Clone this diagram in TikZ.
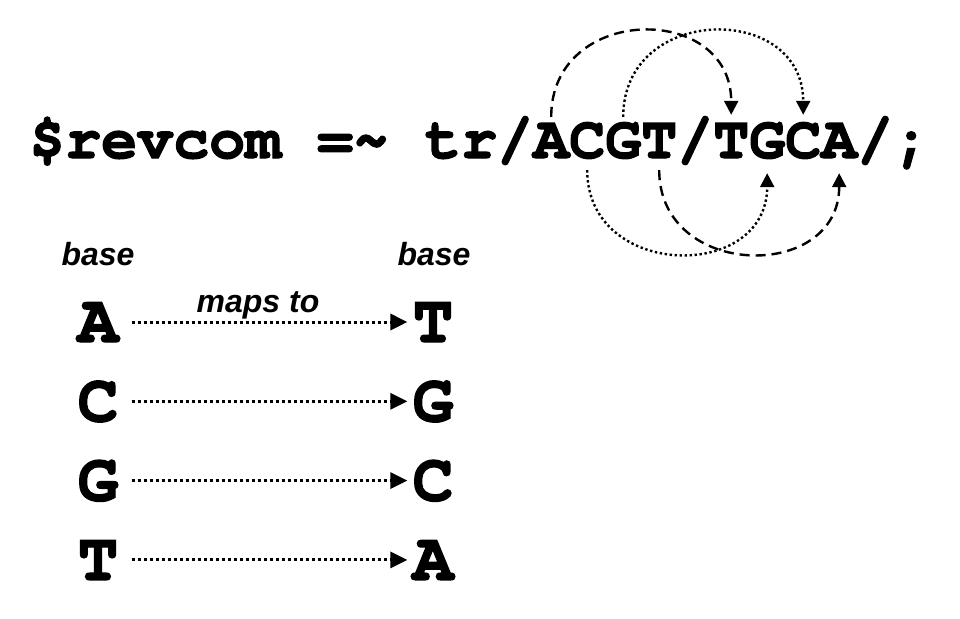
\documentclass[tikz,border=0pt]{standalone}
\usepackage{fontspec}
\setmainfont{Liberation Sans}
\newfontfamily\cursor{TeX Gyre Cursor}[BoldFeatures={FakeBold=2}]
\usetikzlibrary{arrows.meta}
\tikzset{code/.style={font=\cursor\bfseries\fontsize{60}{60}\selectfont,
        inner sep=0pt, text height=35pt, text depth=0pt, anchor=base west},
    nt/.style={font=\cursor\bfseries\fontsize{68}{68}\selectfont,
        inner sep=0pt, text height=40pt, text depth=0pt, anchor=base},
    tag/.style={font=\bfseries\itshape\fontsize{32}{32}\selectfont,
        inner sep=0pt, anchor=base},
    mapsto/.style={line width=3pt, dash pattern=on 3pt off 3pt,
        -{Triangle[length=17pt,width=16pt]}, shorten <=13pt, shorten >=5pt},
    swapdash/.style={line width=2.4pt, dash pattern=on 10pt off 6pt,
        -{Triangle[length=14pt,width=14pt]}},
    swapdot/.style={line width=2.4pt, dash pattern=on 2.4pt off 2.6pt,
        -{Triangle[length=14pt,width=14pt]}},
    }

\begin{document}
\begin{tikzpicture}[x=1pt,y=1pt]
\useasboundingbox (0,0) rectangle (960,-618);
% the tr/// line
\node[code] (pre) at (29,-158) {\$revcom =\textasciitilde{} tr/};
\foreach \c [count=\i] in {A,C,G,T}
    \node[code] (s\i) at ({29+36*(13+\i)},-158) {\c};
\node[code] (slash) at (677,-158) {/};
\foreach \c [count=\i] in {T,G,C,A}
    \node[code] (t\i) at ({29+36*(18+\i)},-158) {\c};
\node[code] (tail) at (857,-158) {/;};
% arcs above and below
\draw[swapdash] ([yshift=6pt]s1.north) to[out=90,in=90,looseness=1.6] ([yshift=8pt]t1.north);
\draw[swapdot] ([yshift=6pt]s3.north) to[out=90,in=90,looseness=1.6] ([yshift=8pt]t3.north);
\draw[swapdot] ([yshift=-12pt]s2.south) to[out=-90,in=-90,looseness=1.55] ([yshift=-15pt]t2.south);
\draw[swapdash] ([yshift=-12pt]s4.south) to[out=-90,in=-90,looseness=1.55] ([yshift=-15pt]t4.south);
% base table
\node[tag] (lbase) at (98,-265) {base};
\node[tag] (rbase) at (434,-265) {base};
\foreach \s/\t [count=\i] in {A/T,C/G,G/C,T/A} {
    \node[nt] (l\i) at (98,{-342-79.3*(\i-1)}) {\s};
    \node[nt] (r\i) at (433,{-342-79.3*(\i-1)}) {\t};
    \draw[mapsto] (l\i) -- (r\i);
}
\node[tag] (maps) at (258,-312) {maps to};
\end{tikzpicture}
\end{document}
